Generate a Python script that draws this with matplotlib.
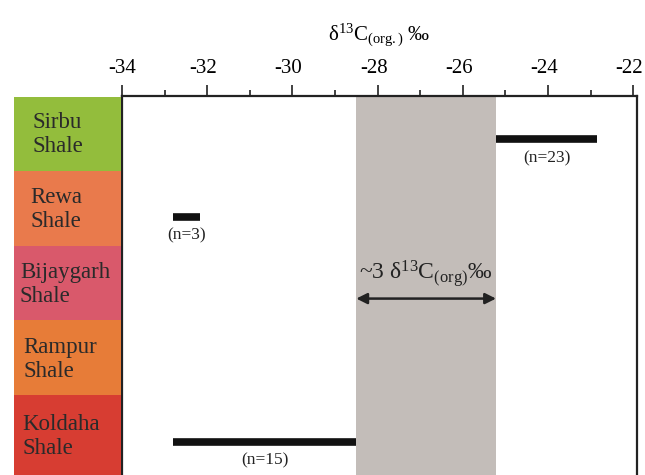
import matplotlib
matplotlib.use("Agg")
import matplotlib.pyplot as plt
from matplotlib.patches import Rectangle
from matplotlib.transforms import ScaledTranslation

plt.rcParams['font.family'] = ['Liberation Serif', 'DejaVu Serif']
plt.rcParams['mathtext.fontset'] = 'custom'
plt.rcParams['mathtext.rm'] = 'Liberation Serif'
plt.rcParams['mathtext.it'] = 'Liberation Serif:italic'
plt.rcParams['mathtext.default'] = 'rm'

# Data
units = ["Sirbu\nShale", "Rewa\nShale", "Bijaygarh\nShale", "Rampur\nShale", "Koldaha\nShale"]
unit_colors = ["#93bd3c", "#e97a4c", "#d9596b", "#e77c38", "#d73d32"]
unit_top = [0.0, 1.0, 2.0, 3.0, 4.0]
unit_bottom = [1.0, 2.0, 3.0, 4.0, 5.07]

range_units = ["Sirbu", "Rewa", "Koldaha"]
range_min = [-25.22, -32.8, -32.8]
range_max = [-22.85, -32.17, -28.5]
range_y = [0.58, 1.62, 4.63]
range_n = ["(n=23)", "(n=3)", "(n=15)"]

band_min, band_max = -28.5, -25.22
xticks_major = [-34, -32, -30, -28, -26, -24, -22]
xticks_minor = [-33, -31, -29, -27, -25, -23]

# layout
label_x = [0.17, 0.15, 0.055, 0.09, 0.075]

fig = plt.figure(figsize=(6.45, 4.75), dpi=100)
ax = fig.add_axes([122/645, 0.0, (637-122)/645, 1 - 96/475])
col = fig.add_axes([14/645, 0.0, (121-14)/645, 1 - 97/475])

ymax = unit_bottom[-1]
ax.set_xlim(-34, -21.91)
ax.set_ylim(ymax, 0)
col.set_xlim(0, 1)
col.set_ylim(ymax, 1/75)

# band
ax.axvspan(band_min, band_max, color="#c3bdb9", lw=0, zorder=1)

# ranges
for lo, hi, y, n in zip(range_min, range_max, range_y, range_n):
    ax.plot([lo, hi], [y, y], color="#111111", lw=5.5, solid_capstyle='butt', zorder=3)
    ax.text((lo + hi) / 2, y + 0.25, n, ha='center', va='center', fontsize=12.5, color="#222222")

# arrow + annotation
ax.annotate("", xy=(band_min, 2.71), xytext=(band_max, 2.71),
            arrowprops=dict(arrowstyle="<|-|>", color="#222222", lw=1.8,
                            mutation_scale=16, shrinkA=0, shrinkB=0), zorder=4)
ax.text((band_min + band_max) / 2, 2.38, "~3 δ$^{13}$C$_{(org)}$‰", ha='center', va='center',
        fontsize=17, color="#222222", zorder=4)

# axis styling
ax.xaxis.set_ticks_position('top')
ax.xaxis.set_label_position('top')
ax.set_xticks(xticks_major)
ax.set_xticklabels([str(t) for t in xticks_major], fontsize=15)
ax.set_xticks(xticks_minor, minor=True)
ax.tick_params(axis='x', which='major', direction='out', length=8, width=1.3, pad=5, color="#333333")
ax.tick_params(axis='x', which='minor', direction='out', length=4, width=1.3, color="#333333")
off = ScaledTranslation(-4/100, 0, fig.dpi_scale_trans)
for lbl in ax.get_xticklabels()[1:]:
    lbl.set_transform(lbl.get_transform() + off)
ax.set_yticks([])
ax.spines['bottom'].set_visible(False)
for s in ['top', 'left', 'right']:
    ax.spines[s].set_linewidth(1.6)
    ax.spines[s].set_color("#222222")
ax.set_xlabel("δ$^{13}$C$_{(org.)}$ ‰", fontsize=15, labelpad=13)

# strat column
for name, c, t, b, lx in zip(units, unit_colors, unit_top, unit_bottom, label_x):
    col.add_patch(Rectangle((0, t), 1, b - t, facecolor=c, edgecolor='none'))
    col.text(lx, (t + b) / 2 + 0.02, name,
             ha='left', va='center', fontsize=16.5, color="#2a2a2a", linespacing=1.2)
col.axis('off')

fig.savefig("out.png", dpi=100)
